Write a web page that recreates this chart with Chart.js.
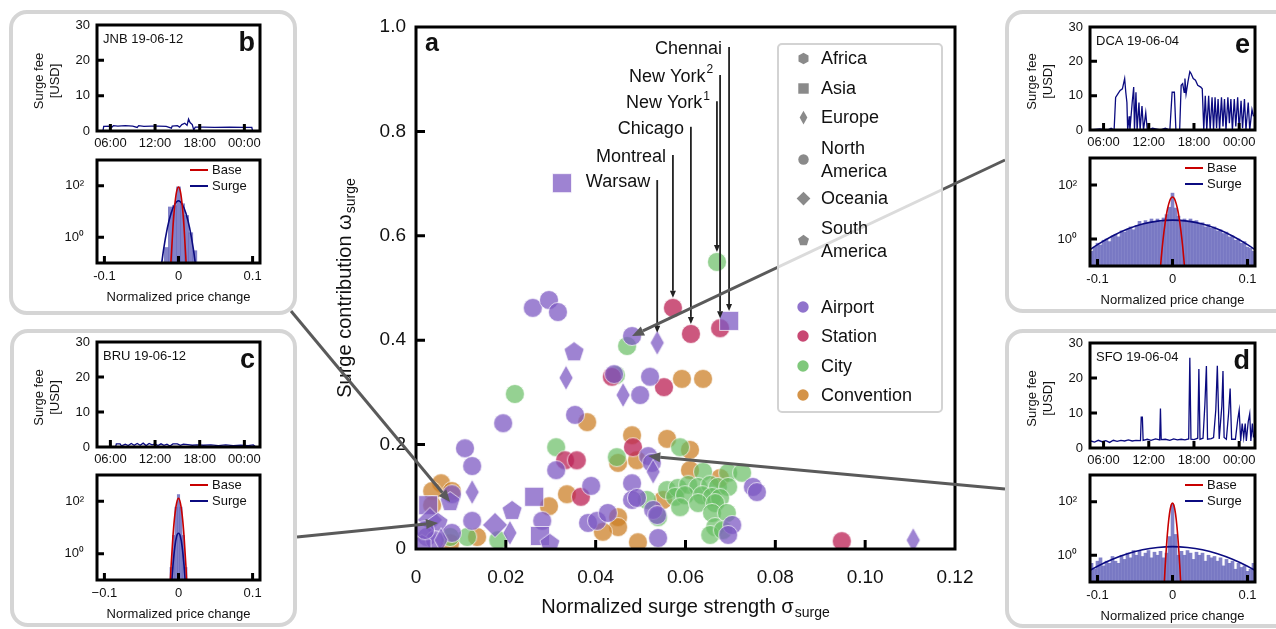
<!DOCTYPE html>
<html>
<head>
<meta charset="utf-8">
<title>Surge pricing</title>
<script src="https://cdn.jsdelivr.net/npm/chart.js"></script>
<style>
  html, body { margin: 0; padding: 0; background: #fff; }
  body { position: relative; width: 1276px; height: 629px; overflow: hidden; font-family: "Liberation Sans", Arial, sans-serif; color: #111; }
  canvas { position: absolute; }
  #main { left: 0; top: 0; z-index: 0; }
  .panel { position: absolute; box-sizing: border-box; border: 4px solid #d5d5d5; border-radius: 18px; background: #fff; z-index: 1; }
  #legend { position: absolute; left: 777px; top: 43px; width: 166px; height: 370px; box-sizing: border-box; border: 2px solid #d3d3d3; border-radius: 5px; background: rgba(255,255,255,0.78); z-index: 2; font-size: 18px; }
  .lg-text { position: absolute; left: 42px; line-height: 23px; white-space: nowrap; }
</style>
</head>
<body>
<canvas id="main" width="1276" height="629"></canvas>
<div class="panel" id="pb" style="left:9px;top:10px;width:288px;height:305px"></div>
<div class="panel" id="pc" style="left:10px;top:329px;width:287px;height:298px"></div>
<div class="panel" id="pe" style="left:1005px;top:10px;width:290px;height:303px"></div>
<div class="panel" id="pd" style="left:1005px;top:329px;width:290px;height:299px"></div>
<div id="legend"></div>
<script>
Chart.defaults.font.family = '"Liberation Sans", Arial, Helvetica, sans-serif';
Chart.defaults.color = '#111';

// ---------- panel a: [strength, contribution, continent] ----------
const airport = [
  [0.0325,0.701,'AS'],[0.026,0.462,'NA'],[0.0296,0.477,'NA'],[0.0316,0.454,'NA'],[0.0352,0.377,'SA'],
  [0.0334,0.328,'EU'],[0.0697,0.437,'AS'],[0.0481,0.408,'NA'],[0.0537,0.395,'EU'],[0.0441,0.335,'NA'],
  [0.0521,0.33,'NA'],[0.0461,0.295,'EU'],[0.0499,0.295,'NA'],[0.0194,0.241,'NA'],[0.0354,0.257,'NA'],
  [0.0109,0.193,'NA'],[0.0125,0.159,'NA'],[0.0312,0.151,'NA'],[0.039,0.121,'NA'],[0.008,0.105,'NA'],
  [0.0076,0.09,'SA'],[0.0125,0.109,'EU'],[0.0027,0.084,'AS'],[0.0263,0.1,'AS'],[0.0214,0.073,'SA'],
  [0.0125,0.054,'NA'],[0.0176,0.046,'OC'],[0.0209,0.031,'EU'],[0.0281,0.054,'NA'],[0.0276,0.025,'AS'],
  [0.0298,0.01,'SA'],[0.0383,0.05,'NA'],[0.0403,0.054,'NA'],[0.0031,0.056,'OC'],[0.0049,0.05,'SA'],
  [0.0024,0.023,'NA'],[0.0042,0.017,'NA'],[0.008,0.031,'NA'],[0.0013,0.008,'AF'],[0.0056,0.017,'EU'],
  [0.0481,0.126,'NA'],[0.0481,0.094,'NA'],[0.0492,0.098,'NA'],[0.0517,0.178,'NA'],[0.0525,0.165,'NA'],
  [0.0528,0.148,'EU'],[0.0528,0.075,'NA'],[0.0537,0.065,'NA'],[0.0427,0.069,'NA'],[0.0539,0.021,'NA'],
  [0.075,0.119,'NA'],[0.0759,0.109,'NA'],[0.0704,0.046,'NA'],[0.0695,0.027,'NA'],[0.1107,0.017,'EU'],
  [0.002,0.036,'NA']
];
const station = [
  [0.0572,0.462,'NA'],[0.0612,0.412,'NA'],[0.0677,0.423,'NA'],[0.0436,0.33,'NA'],[0.0552,0.31,'NA'],
  [0.0332,0.17,'NA'],[0.0358,0.17,'NA'],[0.0367,0.1,'NA'],[0.0483,0.195,'NA'],[0.0948,0.015,'NA']
];
const city = [
  [0.067,0.55,'NA'],[0.047,0.389,'NA'],[0.0445,0.333,'NA'],[0.022,0.297,'NA'],[0.0312,0.195,'NA'],
  [0.0447,0.176,'NA'],[0.0588,0.195,'NA'],[0.0639,0.148,'NA'],[0.0695,0.146,'NA'],[0.0726,0.146,'NA'],
  [0.0559,0.113,'NA'],[0.0583,0.117,'NA'],[0.0606,0.123,'NA'],[0.0628,0.119,'NA'],[0.0655,0.123,'NA'],
  [0.0672,0.119,'NA'],[0.0695,0.119,'NA'],[0.0577,0.1,'NA'],[0.0599,0.103,'NA'],[0.0637,0.103,'NA'],
  [0.0659,0.1,'NA'],[0.0677,0.098,'NA'],[0.0588,0.08,'NA'],[0.0628,0.088,'NA'],[0.0666,0.088,'NA'],
  [0.0659,0.069,'NA'],[0.0692,0.069,'NA'],[0.0666,0.042,'NA'],[0.0655,0.027,'NA'],[0.0683,0.036,'NA'],
  [0.0514,0.094,'NA'],[0.0539,0.061,'NA'],[0.0114,0.023,'NA'],[0.0183,0.017,'NA'],[0.0076,0.023,'NA']
];
const convention = [
  [0.0592,0.326,'NA'],[0.0639,0.326,'NA'],[0.0381,0.243,'NA'],[0.0481,0.218,'NA'],[0.0492,0.17,'NA'],
  [0.045,0.165,'NA'],[0.0559,0.211,'NA'],[0.061,0.19,'NA'],[0.061,0.151,'NA'],[0.0677,0.136,'NA'],
  [0.055,0.094,'NA'],[0.045,0.061,'NA'],[0.045,0.042,'NA'],[0.0416,0.033,'NA'],[0.0494,0.013,'NA'],
  [0.0336,0.105,'NA'],[0.0296,0.082,'NA'],[0.0056,0.126,'NA'],[0.008,0.111,'NA'],[0.0036,0.111,'NA'],
  [0.0036,0.084,'NA'],[0.0136,0.023,'NA'],[0.0076,0.011,'NA']
];
const categories = ['Airport', 'Station', 'City', 'Convention'];
const catColors = ['rgba(125,90,195,0.75)', 'rgba(190,40,90,0.78)', 'rgba(104,190,100,0.7)', 'rgba(204,128,40,0.75)'];
const continents = ['AF', 'AS', 'EU', 'NA', 'OC', 'SA'];
const continentNames = ['Africa', 'Asia', 'Europe', 'North America', 'Oceania', 'South America'];

const xTicks = [0, 0.02, 0.04, 0.06, 0.08, 0.10, 0.12];
const xTickLabels = ['0', '0.02', '0.04', '0.06', '0.08', '0.10', '0.12'];
const yTicks = [0, 0.2, 0.4, 0.6, 0.8, 1.0];
const yTickLabels = ['0', '0.2', '0.4', '0.6', '0.8', '1.0'];

// labelled cities: label height (data units) and the point each line ends on
const cityNames = ['Chennai', 'New York', 'New York', 'Chicago', 'Montreal', 'Warsaw'];
const citySup = ['', '2', '1', '', '', ''];
const cityLabelY = [0.958, 0.904, 0.854, 0.805, 0.751, 0.703];
const cityTargetX = [0.0697, 0.0677, 0.067, 0.0612, 0.0572, 0.0537];
const cityTargetY = [0.437, 0.423, 0.55, 0.412, 0.462, 0.395];

// ---------- side panels: time series [hour, USD] ----------
const hourTicks = [6, 12, 18, 24];
const hourLabels = ['06:00', '12:00', '18:00', '00:00'];
const feeTicks = [0, 10, 20, 30];

const jnbSeries = [[5.0,0],[5.1,1.3],[6,1.4],[6.2,1.1],[6.4,1.5],[7,1.4],[8,1.5],[9,1.4],[9.6,1.0],[9.8,1.5],
  [10.5,1.3],[11.5,1.4],[12.5,1.4],[13.5,1.3],[14.2,0.8],[14.3,1.4],[15.0,1.5],[15.3,1.1],[15.6,1.8],[16.0,2.2],
  [16.3,1.6],[16.5,3.4],[16.7,2.4],[17.0,1.8],[17.2,0.3],[17.4,1.1],[18.5,1.1],[20,1.0],[22,1.1],[24,1.0],[25.0,1.0],[25.1,0]];
const bruSeries = [[4.3,0.05],[6.7,0.05],[6.8,0.9],[7.3,0.9],[7.5,0.3],[8.0,0.8],[8.4,0.4],[8.8,1.0],[9.2,0.5],[9.6,1.0],
  [10.0,0.5],[10.4,1.1],[10.8,0.4],[11.2,1.0],[11.6,0.6],[12.0,0.9],[12.4,0.4],[12.8,0.9],[13.2,0.5],[13.6,0.8],
  [14.0,0.3],[14.4,0.9],[15.0,0.9],[15.4,0.5],[15.8,0.8],[16.4,0.7],[17.0,0.5],[17.6,0.6],[18.5,0.5],[19.5,0.6],
  [20.5,0.4],[21.5,0.6],[22.5,0.4],[23.5,0.5],[24.5,0.4],[25.2,0.6],[25.5,0.1],[26.1,0.1]];
const dcaSeries = [[4.3,0],[5.5,0.3],[6.5,0],[7.0,0.5],[7.4,0],[7.6,9.5],[7.9,10.5],[8.2,11.5],[8.5,12],[8.8,15],
  [8.95,11],[9.1,8],[9.2,0],[9.4,4],[9.5,0],[9.8,8],[10.0,12.5],[10.1,0],[10.3,11],[10.45,0],[10.7,8],[10.85,0],
  [11.1,7],[11.3,0],[11.6,5],[11.8,0],[12.5,0.5],[13.5,0],[14.2,0.5],[14.8,0],[15.1,11],[15.4,11],[15.6,0],[16.1,0],
  [16.3,13],[16.5,13.5],[16.7,11],[16.8,15],[16.95,10.5],[17.2,14],[17.45,17],[17.6,16.5],[17.9,15],[18.2,14.5],
  [18.5,13],[18.9,12.5],[19.1,12],[19.3,0],[19.5,10],[19.7,0],[19.95,10],[20.15,0],[20.4,9.5],[20.6,0],[20.8,9.5],
  [21.0,0.5],[21.2,9],[21.4,0],[21.65,9.5],[21.85,1],[22.05,9],[22.25,0],[22.5,9.5],[22.7,2],[22.9,9],[23.1,0],
  [23.35,9],[23.55,1],[23.8,9.5],[24.0,0],[24.25,8.5],[24.45,0.5],[24.7,9],[24.9,0],[25.2,8],[25.4,0],[25.7,6],[25.9,4]];
const sfoSeries = [[4.3,2.0],[4.8,1.7],[5.3,2.2],[5.8,1.8],[6.3,2.1],[6.8,1.6],[7.3,2.2],[7.8,1.9],[8.3,2.2],[8.8,2.0],
  [9.3,2.3],[9.8,2.0],[10.3,2.2],[10.9,2.1],[11.0,8.8],[11.15,8.8],[11.25,2.2],[11.8,2.5],[12.3,2.2],[12.9,2.6],
  [13.45,2.3],[13.55,11.3],[13.65,2.4],[14.2,2.5],[14.8,2.2],[15.3,2.6],[15.8,2.3],[16.3,2.5],[16.8,2.3],[17.3,2.6],
  [17.45,25.8],[17.6,2.5],[18.0,2.4],[18.5,2.8],[18.65,22.6],[18.8,2.5],[19.2,2.8],[19.45,12.5],[19.65,23.4],[19.8,2.5],
  [20.3,2.7],[20.6,3],[20.9,11],[21.1,23.5],[21.35,2.6],[21.7,12],[21.85,22],[22.0,3],[22.3,2.5],[22.6,10],[22.8,17],
  [23.0,2.5],[23.5,2.5],[23.8,8],[24.0,10.8],[24.2,2],[24.4,7],[24.6,3],[24.8,7],[24.95,2],[25.2,7.5],[25.4,9.8],
  [25.55,2],[25.75,7],[25.9,3]];

// ---------- side panels: price-change histograms and fits ----------
const changeTicks = [-0.1, 0, 0.1];
const countTicks = [1, 100];
const countLabels = ['10\u2070', '10\u00b2'];

const jnbHistX = [-0.0165, -0.011, -0.0055, 0, 0.0055, 0.011, 0.0165, 0.022];
const jnbHist = [0.4, 15, 17, 90, 20, 7, 1.5, 0.3];
const bruHistX = [-0.0099, -0.0066, -0.0033, 0, 0.0033, 0.0066, 0.0099];
const bruHist = [0.3, 5, 60, 180, 60, 5, 0.3];
const wideHistX = [-0.108,-0.104,-0.1,-0.096,-0.092,-0.088,-0.084,-0.08,-0.076,-0.072,-0.068,-0.064,-0.06,-0.056,
  -0.052,-0.048,-0.044,-0.04,-0.036,-0.032,-0.028,-0.024,-0.02,-0.016,-0.012,-0.008,-0.004,0,0.004,0.008,0.012,0.016,
  0.02,0.024,0.028,0.032,0.036,0.04,0.044,0.048,0.052,0.056,0.06,0.064,0.068,0.072,0.076,0.08,0.084,0.088,0.092,
  0.096,0.1,0.104,0.108];
const dcaHist = [0.35,0.5,0.7,0.6,0.9,1.0,0.8,1.3,1.5,1.2,2.0,1.8,2.3,2.8,2.2,3.2,4.5,3.5,4.8,3.8,5.5,4.5,5.5,4.2,
  6,8,15,50,14,7,5,5.5,4.2,5.5,4.6,4.8,3.5,4.0,2.8,3.5,2.5,2.8,2.0,2.2,1.6,1.8,1.2,1.3,0.9,1.0,0.7,0.8,0.5,0.45,0.35];
const sfoHist = [0.5,0.3,0.6,0.8,0.4,0.6,0.5,0.9,0.6,0.5,1.0,0.7,1.2,0.8,1.5,1.0,1.4,0.9,1.2,1.5,0.8,1.3,1.0,1.4,
  0.8,1.2,5,80,6,1.0,1.4,1.0,1.5,1.2,0.7,1.3,1.0,1.2,0.6,1.0,0.8,0.9,0.6,0.8,0.4,0.7,0.5,0.6,0.3,0.5,0.35,0.4,0.25,0.3,0.5];

const jnbBase = [[-0.0125,0.004],[-0.01,0.14],[-0.0075,2.4],[-0.005,18],[-0.0025,60],[0,90],[0.0025,60],[0.005,18],[0.0075,2.4],[0.01,0.14],[0.0125,0.004]];
const jnbSurge = [[-0.025,0.03],[-0.02,0.35],[-0.015,2.3],[-0.01,8.6],[-0.005,19],[0,26],[0.005,19],[0.01,8.6],[0.015,2.3],[0.02,0.35],[0.025,0.03]];
const bruBase = [[-0.0125,0.013],[-0.01,0.35],[-0.0075,4.6],[-0.005,29],[-0.0025,87],[0,130],[0.0025,87],[0.005,29],[0.0075,4.6],[0.01,0.35],[0.0125,0.013]];
const bruSurge = [[-0.01,0.04],[-0.0075,0.35],[-0.005,1.8],[-0.0025,4.6],[0,6],[0.0025,4.6],[0.005,1.8],[0.0075,0.35],[0.01,0.04]];
const dcaBase = [[-0.0175,0.03],[-0.015,0.2],[-0.0125,1.0],[-0.01,3.6],[-0.0075,10],[-0.005,20],[-0.0025,31],[0,36],[0.0025,31],[0.005,20],[0.0075,10],[0.01,3.6],[0.0125,1.0],[0.015,0.2],[0.0175,0.03]];
const dcaSurge = [[-0.12,0.26],[-0.1,0.62],[-0.08,1.3],[-0.06,2.35],[-0.04,3.6],[-0.02,4.6],[0,5],[0.02,4.6],[0.04,3.6],[0.06,2.35],[0.08,1.3],[0.1,0.62],[0.12,0.26]];
const sfoBase = [[-0.012,0.024],[-0.01,0.3],[-0.008,2.3],[-0.006,11.4],[-0.004,36],[-0.002,71],[0,90],[0.002,71],[0.004,36],[0.006,11.4],[0.008,2.3],[0.01,0.3],[0.012,0.024]];
const sfoSurge = [[-0.12,0.19],[-0.1,0.39],[-0.08,0.71],[-0.06,1.14],[-0.04,1.6],[-0.02,1.95],[0,2.1],[0.02,1.95],[0.04,1.6],[0.06,1.14],[0.08,0.71],[0.1,0.39],[0.12,0.19]];

// ---------- markers ----------
function shapePath(ctx, shape, cx, cy, s) {
  ctx.beginPath();
  if (shape === 'NA') {
    ctx.arc(cx, cy, 9.5 * s, 0, Math.PI * 2);
  } else if (shape === 'AS') {
    ctx.rect(cx - 9.5 * s, cy - 9.5 * s, 19 * s, 19 * s);
  } else if (shape === 'EU' || shape === 'OC') {
    const hw = (shape === 'EU' ? 7 : 12.5) * s, hh = 12.5 * s;
    ctx.moveTo(cx, cy - hh); ctx.lineTo(cx + hw, cy); ctx.lineTo(cx, cy + hh); ctx.lineTo(cx - hw, cy);
    ctx.closePath();
  } else {
    const n = shape === 'SA' ? 5 : 6, r = 10.5 * s;
    for (let i = 0; i < n; i++) {
      const t = -Math.PI / 2 + i * 2 * Math.PI / n;
      if (i === 0) ctx.moveTo(cx + r * Math.cos(t), cy + r * Math.sin(t));
      else ctx.lineTo(cx + r * Math.cos(t), cy + r * Math.sin(t));
    }
    ctx.closePath();
  }
}
function makeMarker(shape, color, s, edge) {
  const c = document.createElement('canvas');
  c.width = c.height = Math.ceil(30 * s);
  const ctx = c.getContext('2d');
  shapePath(ctx, shape, c.width / 2, c.height / 2, s);
  ctx.fillStyle = color; ctx.fill();
  if (edge) { ctx.strokeStyle = 'rgba(255,255,255,0.7)'; ctx.lineWidth = 1; ctx.stroke(); }
  return c;
}
const markers = catColors.map(col => {
  const m = {};
  continents.forEach(k => { m[k] = makeMarker(k, col, 1, true); });
  return m;
});

// ---------- helpers ----------
function drawSub(ctx, text, sub, x, y, size, angle) {
  ctx.save();
  ctx.translate(x, y); ctx.rotate(angle || 0);
  ctx.fillStyle = '#111'; ctx.textBaseline = 'middle'; ctx.textAlign = 'left';
  ctx.font = size + 'px ' + Chart.defaults.font.family;
  const w1 = ctx.measureText(text).width;
  ctx.font = Math.round(size * 0.72) + 'px ' + Chart.defaults.font.family;
  const w2 = ctx.measureText(sub).width;
  const x0 = -(w1 + w2 + 1) / 2;
  ctx.font = size + 'px ' + Chart.defaults.font.family;
  ctx.fillText(text, x0, 0);
  ctx.font = Math.round(size * 0.72) + 'px ' + Chart.defaults.font.family;
  ctx.fillText(sub, x0 + w1 + 1, size * 0.32);
  ctx.restore();
}
function arrow(ctx, x1, y1, x2, y2, color, lw, head, hw) {
  const a = Math.atan2(y2 - y1, x2 - x1);
  const bx = x2 - head * Math.cos(a), by = y2 - head * Math.sin(a);
  ctx.strokeStyle = color; ctx.fillStyle = color; ctx.lineWidth = lw;
  ctx.beginPath(); ctx.moveTo(x1, y1); ctx.lineTo(bx, by); ctx.stroke();
  ctx.beginPath();
  ctx.moveTo(x2, y2);
  ctx.lineTo(bx + hw * Math.sin(a), by - hw * Math.cos(a));
  ctx.lineTo(bx - hw * Math.sin(a), by + hw * Math.cos(a));
  ctx.closePath(); ctx.fill();
}
function decor(o) {
  return {
    id: 'decor',
    afterDatasetsDraw(chart) {
      const { ctx, chartArea: a, scales } = chart;
      ctx.save();
      ctx.strokeStyle = '#000'; ctx.lineWidth = o.lw;
      ctx.beginPath();
      o.xt.forEach(v => { const p = scales.x.getPixelForValue(v); ctx.moveTo(p, a.bottom); ctx.lineTo(p, a.bottom - o.tl); });
      o.yt.forEach(v => { const p = scales.y.getPixelForValue(v); ctx.moveTo(a.left, p); ctx.lineTo(a.left + o.tl, p); });
      ctx.stroke();
      ctx.strokeRect(a.left, a.top, a.right - a.left, a.bottom - a.top);
      ctx.restore();
      if (o.draw) { ctx.save(); o.draw(ctx, a, chart); ctx.restore(); }
    }
  };
}
// fixed axis size, and no extra room asked for overhanging tick labels
function fixedAxis(s, size) {
  if (s.isHorizontal()) s.height = size; else s.width = size;
  s.paddingTop = 0; s.paddingBottom = 0; s.paddingLeft = 0; s.paddingRight = 0;
}

// ---------- main chart ----------
const catData = [airport, station, city, convention];
const panelArrows = [
  { box: 'pb', from: b => [b.right - 6, b.bottom - 4], to: [0.0076, 0.09] },
  { box: 'pc', from: b => [b.right, b.top + 208], to: [0.0049, 0.05] },
  { box: 'pe', from: b => [b.left, b.top + 150], to: [0.0481, 0.408] },
  { box: 'pd', from: b => [b.left, b.top + 160], to: [0.0517, 0.178] }
];

new Chart(document.getElementById('main'), {
  type: 'scatter',
  data: {
    datasets: catData.map((arr, k) => ({
      label: categories[k],
      data: arr.map(p => ({ x: p[0], y: p[1], c: p[2] })),
      pointStyle: ctx => markers[k][ctx.raw ? ctx.raw.c : 'NA'],
      pointRadius: 10,
      backgroundColor: catColors[k]
    }))
  },
  options: {
    responsive: false, animation: false, events: [],
    layout: { autoPadding: false, padding: { left: 346, right: 321, top: 27, bottom: 0 } },
    plugins: { legend: { display: false }, tooltip: { enabled: false } },
    scales: {
      x: {
        type: 'linear', min: 0, max: 0.12,
        afterBuildTicks: s => { s.ticks = xTicks.map(v => ({ value: v })); },
        afterFit: s => fixedAxis(s, 80),
        ticks: { callback: (v, i) => xTickLabels[i], font: { size: 19 }, padding: 17, maxRotation: 0, color: '#111' },
        grid: { display: false, drawTicks: false }, border: { display: false }
      },
      y: {
        min: 0, max: 1,
        afterBuildTicks: s => { s.ticks = yTicks.map(v => ({ value: v })); },
        afterFit: s => fixedAxis(s, 70),
        ticks: { callback: (v, i) => yTickLabels[i], font: { size: 19 }, padding: 10, color: '#111' },
        grid: { display: false, drawTicks: false }, border: { display: false }
      }
    }
  },
  plugins: [decor({
    lw: 3, tl: 9, xt: xTicks.slice(1, -1), yt: yTicks.slice(1, -1),
    draw(ctx, a, chart) {
      const { x, y } = chart.scales;
      const fam = Chart.defaults.font.family;
      // panel letter and axis titles
      ctx.fillStyle = '#111';
      ctx.font = 'bold 25px ' + fam; ctx.textBaseline = 'middle'; ctx.textAlign = 'left';
      ctx.fillText('a', a.left + 9, a.top + 17);
      drawSub(ctx, 'Normalized surge strength \u03c3', 'surge', (a.left + a.right) / 2, 607, 20, 0);
      drawSub(ctx, 'Surge contribution \u03c9', 'surge', 345, (a.top + a.bottom) / 2, 20, -Math.PI / 2);
      // labelled cities
      cityNames.forEach((name, i) => {
        const lx = x.getPixelForValue(cityTargetX[i]);
        const ly = y.getPixelForValue(cityLabelY[i]);
        const ty = y.getPixelForValue(cityTargetY[i]) - 10;
        arrow(ctx, lx, ly - 2, lx, ty, '#222', 1.8, 7, 3);
        ctx.fillStyle = '#111'; ctx.textBaseline = 'middle';
        let right = lx - 7;
        if (citySup[i]) {
          ctx.font = '12px ' + fam; ctx.textAlign = 'right';
          ctx.fillText(citySup[i], right, ly - 7);
          right -= ctx.measureText(citySup[i]).width + 1;
        }
        ctx.font = '18px ' + fam; ctx.textAlign = 'right';
        ctx.fillText(name, right, ly);
      });
      // arrows from the side panels
      panelArrows.forEach(p => {
        const b = document.getElementById(p.box).getBoundingClientRect();
        const [sx, sy] = p.from(b);
        arrow(ctx, sx, sy, x.getPixelForValue(p.to[0]), y.getPixelForValue(p.to[1]), '#5a5a5a', 3, 12, 5);
      });
    }
  })]
});

// ---------- legend of panel a ----------
const legendEl = document.getElementById('legend');
const legendRows = [];
continents.forEach((k, i) => legendRows.push({ text: continentNames[i], marker: makeMarker(k, '#8a8a8a', 0.55, false) }));
categories.forEach((c, i) => legendRows.push({ text: c, marker: makeMarker('NA', catColors[i].replace(/[\d.]+\)$/, '0.85)'), 0.6, false) }));
const legendY = [13, 43, 72, 114.5, 153, 195, 262, 291, 321, 350];
legendRows.forEach((r, i) => {
  const lines = r.text.split(' ').length > 1 && i < 6 ? r.text.split(' ') : [r.text];
  const t = document.createElement('div');
  t.className = 'lg-text';
  t.innerHTML = lines.join('<br>');
  t.style.top = (legendY[i] - 11.5 * lines.length) + 'px';
  legendEl.appendChild(t);
  const m = r.marker;
  m.style.left = (24 - m.width / 2) + 'px';
  m.style.top = (legendY[i] - m.height / 2) + 'px';
  legendEl.appendChild(m);
});

// ---------- side panels ----------
function smallCanvas(plot, m) {
  const c = document.createElement('canvas');
  c.width = plot[2] - plot[0] + m.L + m.R;
  c.height = plot[3] - plot[1] + m.T + m.B;
  c.style.left = (plot[0] - m.L) + 'px';
  c.style.top = (plot[1] - m.T) + 'px';
  c.style.zIndex = 5;
  document.body.appendChild(c);
  return c;
}
const fam = () => Chart.defaults.font.family;

function timeChart(plot, series, code, letter) {
  const m = { L: 70, T: 10, R: 26, B: 26 };
  new Chart(smallCanvas(plot, m), {
    type: 'line',
    data: { datasets: [{ data: series, borderColor: '#0b0b80', borderWidth: 1.3, pointRadius: 0, tension: 0 }] },
    options: {
      responsive: false, animation: false, events: [],
      layout: { autoPadding: false, padding: { left: 0, top: m.T, right: m.R, bottom: 0 } },
      plugins: { legend: { display: false }, tooltip: { enabled: false } },
      scales: {
        x: {
          type: 'linear', min: 4.2, max: 26.1,
          afterBuildTicks: s => { s.ticks = hourTicks.map(v => ({ value: v })); },
          afterFit: s => fixedAxis(s, m.B),
          ticks: { callback: (v, i) => hourLabels[i], font: { size: 13 }, padding: 5, maxRotation: 0 },
          grid: { display: false, drawTicks: false }, border: { display: false }
        },
        y: {
          min: 0, max: 30,
          afterBuildTicks: s => { s.ticks = feeTicks.map(v => ({ value: v })); },
          afterFit: s => fixedAxis(s, m.L),
          ticks: { font: { size: 13 }, padding: 7 },
          grid: { display: false, drawTicks: false }, border: { display: false }
        }
      }
    },
    plugins: [decor({
      lw: 3, tl: 7, xt: hourTicks, yt: [10, 20],
      draw(ctx, a) {
        ctx.fillStyle = '#111'; ctx.textBaseline = 'middle';
        ctx.font = '13px ' + fam(); ctx.textAlign = 'left';
        ctx.fillText(code, a.left + 6, a.top + 14);
        ctx.font = 'bold 27px ' + fam(); ctx.textAlign = 'right';
        ctx.fillText(letter, a.right - 5, a.top + 19);
        ctx.translate(a.left - 58, (a.top + a.bottom) / 2 + 3);
        ctx.rotate(-Math.PI / 2);
        ctx.font = '13px ' + fam(); ctx.textAlign = 'center';
        ctx.fillText('Surge fee', 0, 0);
        ctx.fillText('[USD]', 0, 16);
      }
    })]
  });
}

function histChart(plot, hx, hy, base, surge, minusLabel) {
  const m = { L: 70, T: 10, R: 26, B: 46 };
  const changeLabels = [minusLabel, '0', '0.1'];
  new Chart(smallCanvas(plot, m), {
    type: 'bar',
    data: {
      datasets: [
        { type: 'line', data: base, borderColor: '#c80000', borderWidth: 1.6, pointRadius: 0, cubicInterpolationMode: 'monotone' },
        { type: 'line', data: surge, borderColor: '#0b0b80', borderWidth: 1.6, pointRadius: 0, cubicInterpolationMode: 'monotone' },
        { data: hx.map((v, i) => ({ x: v, y: hy[i] })), backgroundColor: 'rgba(95,95,185,0.78)', borderWidth: 0,
          barPercentage: 1, categoryPercentage: 1, grouped: false }
      ]
    },
    options: {
      responsive: false, animation: false, events: [],
      layout: { autoPadding: false, padding: { left: 0, top: m.T, right: m.R, bottom: 0 } },
      plugins: { legend: { display: false }, tooltip: { enabled: false } },
      scales: {
        x: {
          type: 'linear', min: -0.11, max: 0.11, offset: false,
          afterBuildTicks: s => { s.ticks = changeTicks.map(v => ({ value: v })); },
          afterFit: s => fixedAxis(s, m.B),
          ticks: { callback: (v, i) => changeLabels[i], font: { size: 13 }, padding: 6, maxRotation: 0 },
          grid: { display: false, drawTicks: false }, border: { display: false }
        },
        y: {
          type: 'logarithmic', min: 0.1, max: 1000,
          afterBuildTicks: s => { s.ticks = countTicks.map(v => ({ value: v })); },
          afterFit: s => fixedAxis(s, m.L),
          ticks: { callback: (v, i) => countLabels[i], font: { size: 13 }, padding: 13 },
          grid: { display: false, drawTicks: false }, border: { display: false }
        }
      }
    },
    plugins: [decor({
      lw: 3, tl: 7, xt: changeTicks, yt: countTicks,
      draw(ctx, a) {
        ctx.fillStyle = '#111'; ctx.textBaseline = 'middle';
        ctx.font = '13px ' + fam(); ctx.textAlign = 'center';
        ctx.fillText('Normalized price change', (a.left + a.right) / 2, a.bottom + 34);
        [['Base', '#c80000', 10], ['Surge', '#0b0b80', 26]].forEach(([t, col, dy]) => {
          ctx.strokeStyle = col; ctx.lineWidth = 2;
          ctx.beginPath(); ctx.moveTo(a.right - 70, a.top + dy); ctx.lineTo(a.right - 52, a.top + dy); ctx.stroke();
          ctx.fillStyle = '#111'; ctx.textAlign = 'left';
          ctx.fillText(t, a.right - 48, a.top + dy);
        });
      }
    })]
  });
}

timeChart([97, 25, 260, 131], jnbSeries, 'JNB 19-06-12', 'b');
histChart([97, 160, 260, 263], jnbHistX, jnbHist, jnbBase, jnbSurge, '-0.1');
timeChart([97, 342, 260, 447], bruSeries, 'BRU 19-06-12', 'c');
histChart([97, 475, 260, 580], bruHistX, bruHist, bruBase, bruSurge, '\u22120.1');
timeChart([1090, 27, 1255, 130], dcaSeries, 'DCA 19-06-04', 'e');
histChart([1090, 158, 1255, 266], wideHistX, dcaHist, dcaBase, dcaSurge, '-0.1');
timeChart([1090, 343, 1255, 448], sfoSeries, 'SFO 19-06-04', 'd');
histChart([1090, 475, 1255, 582], wideHistX, sfoHist, sfoBase, sfoSurge, '-0.1');
</script>
</body>
</html>
